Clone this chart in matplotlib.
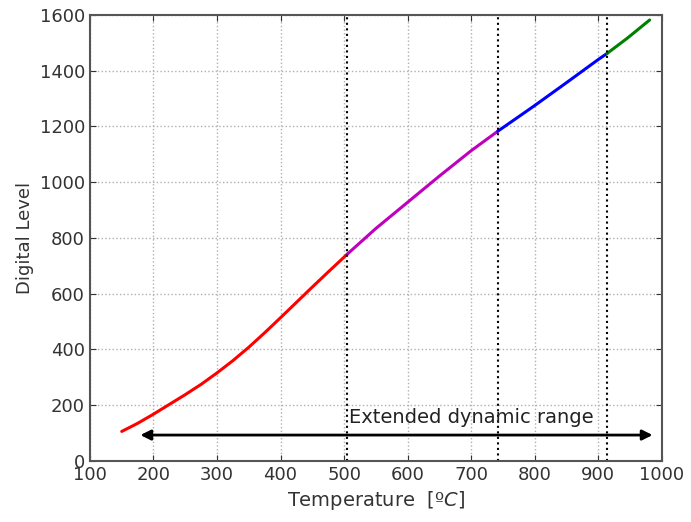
import numpy as np
import matplotlib.pyplot as plt

# curve samples (temperature, digital level)
temp = [150, 175, 200, 225, 250, 275, 300, 325, 350, 375, 400, 425, 450, 475, 505,
        550, 600, 650, 700, 742, 800, 850, 900, 914, 946, 981]
level = [106, 135, 168, 203, 238, 275, 316, 360, 408, 460, 514, 569, 624, 678, 742,
         834, 928, 1022, 1113, 1183, 1275, 1357, 1440, 1462, 1517, 1582]

# segment boundaries and colours
bounds = [150, 505, 742, 914, 981]
seg_colors = ['red', 'm', 'b', 'g']
vlines = [505, 742, 914]

arrow_x = [175, 990]
arrow_y = 93

fig = plt.figure(figsize=(6.91, 5.22), dpi=100)
ax = fig.add_axes([0.1302, 0.1169, 0.8274, 0.8544])

t = np.array(temp)
v = np.array(level)
for i, c in enumerate(seg_colors):
    m = (t >= bounds[i]) & (t <= bounds[i + 1])
    ax.plot(t[m], v[m], color=c, lw=2.2, solid_capstyle='round', solid_joinstyle='round')

for xv in vlines:
    ax.axvline(xv, color='black', ls=':', lw=1.5)

ax.annotate('', xy=(arrow_x[0], arrow_y), xytext=(arrow_x[1], arrow_y),
            arrowprops=dict(arrowstyle='<|-|>', color='black', lw=2, mutation_scale=15))
ax.text(507, 135, 'Extended dynamic range', fontsize=14, color='#222222')

ax.set_xlim(100, 1000)
ax.set_ylim(0, 1600)
ax.set_xticks(range(100, 1001, 100))
ax.set_yticks(range(0, 1601, 200))
ax.grid(True, color='#b0b0b0', ls=':', lw=1)
ax.tick_params(direction='in', top=True, right=True, labelsize=13, colors='#333333', length=4)
for s in ax.spines.values():
    s.set_color('#555555')
    s.set_linewidth(1.5)

ax.set_xlabel('Temperature  [º$C$]', fontsize=14, color='#333333')
ax.set_ylabel('Digital Level', fontsize=13, color='#333333')

plt.savefig('out.png', dpi=100)
